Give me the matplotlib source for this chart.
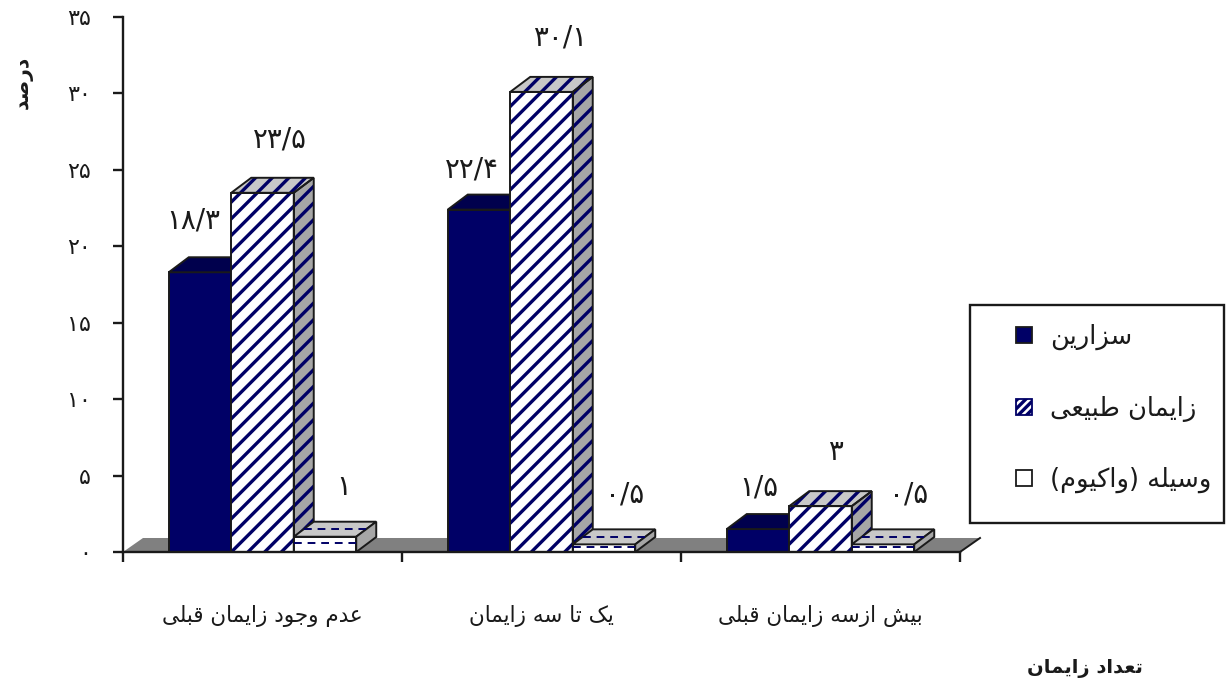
import matplotlib
matplotlib.use("Agg")
import matplotlib.pyplot as plt
from matplotlib.legend_handler import HandlerPatch
from matplotlib.patches import Patch, Polygon, Rectangle


# ---------------- DATA ----------------
CATEGORIES = ["عدم وجود زایمان قبلی", "یک تا سه زایمان", "بیش ازسه زایمان قبلی"]
SERIES_NAMES = ["سزارین", "زایمان طبیعی", "وسیله (واکیوم)"]

CESAREAN = [18.3, 22.4, 1.5]
NATURAL = [23.5, 30.1, 3]
VACUUM = [1, 0.5, 0.5]

CESAREAN_LABELS = ["۱۸/۳", "۲۲/۴", "۱/۵"]
NATURAL_LABELS = ["۲۳/۵", "۳۰/۱", "۳"]
VACUUM_LABELS = ["۱", "۰/۵", "۰/۵"]

Y_TICKS = [0, 5, 10, 15, 20, 25, 30, 35]
Y_TICK_LABELS = ["۰", "۵", "۱۰", "۱۵", "۲۰", "۲۵", "۳۰", "۳۵"]
Y_TITLE = "درصد"
X_TITLE = "تعداد زایمان"
# --------------------------------------

NAVY = "#000066"
DARK_NAVY = "#00004d"
FLOOR = "#808080"
LIGHT_GREY = "#c8c8c8"
SIDE_GREY = "#a6a6a6"
BLACK = "#1a1a1a"

BAR_W = 0.224
DEPTH_X = 20 / 279   # bar depth, in data units
DEPTH_Y = 15 / 15.28
FLOOR_DEPTH_Y = 14 / 15.28

# matplotlib does no Arabic shaping, so map letters to presentation forms
# (isolated, final, initial, medial) and lay them out right to left
FORMS = {
    "ا": (0xFE8D, 0xFE8E), "د": (0xFEA9, 0xFEAA), "ر": (0xFEAD, 0xFEAE),
    "ز": (0xFEAF, 0xFEB0), "و": (0xFEED, 0xFEEE),
    "ب": (0xFE8F, 0xFE90, 0xFE91, 0xFE92), "ت": (0xFE95, 0xFE96, 0xFE97, 0xFE98),
    "ج": (0xFE9D, 0xFE9E, 0xFE9F, 0xFEA0), "س": (0xFEB1, 0xFEB2, 0xFEB3, 0xFEB4),
    "ش": (0xFEB5, 0xFEB6, 0xFEB7, 0xFEB8), "ص": (0xFEB9, 0xFEBA, 0xFEBB, 0xFEBC),
    "ط": (0xFEC1, 0xFEC2, 0xFEC3, 0xFEC4), "ع": (0xFEC9, 0xFECA, 0xFECB, 0xFECC),
    "ق": (0xFED5, 0xFED6, 0xFED7, 0xFED8), "ل": (0xFEDD, 0xFEDE, 0xFEDF, 0xFEE0),
    "م": (0xFEE1, 0xFEE2, 0xFEE3, 0xFEE4), "ن": (0xFEE5, 0xFEE6, 0xFEE7, 0xFEE8),
    "ه": (0xFEE9, 0xFEEA, 0xFEEB, 0xFEEC), "ی": (0xFBFC, 0xFBFD, 0xFBFE, 0xFBFF),
    "ک": (0xFB8E, 0xFB8F, 0xFB90, 0xFB91),
}
MIRROR = {"(": ")", ")": "("}


def shape(text):
    out = []
    for i, ch in enumerate(text):
        if ch not in FORMS:
            out.append(MIRROR.get(ch, ch))
            continue
        prev = text[i - 1] if i > 0 else ""
        nxt = text[i + 1] if i + 1 < len(text) else ""
        forms = FORMS[ch]
        joins_prev = prev in FORMS and len(FORMS[prev]) == 4
        joins_next = nxt in FORMS and len(forms) == 4
        if joins_prev and joins_next:
            code = forms[3]
        elif joins_next:
            code = forms[2]
        elif joins_prev:
            code = forms[1]
        else:
            code = forms[0]
        out.append(chr(code))
    return "".join(reversed(out))


def draw_box(ax, x, value, face, top, side, z, hatch=None, dashed=False):
    x0, x1 = x - BAR_W / 2, x + BAR_W / 2
    ax.bar(x, value, BAR_W, color=face, edgecolor=NAVY if hatch else BLACK,
           hatch=hatch, linewidth=0 if hatch else 1.4, zorder=z)
    top_pts = [(x0, value), (x0 + DEPTH_X, value + DEPTH_Y),
               (x1 + DEPTH_X, value + DEPTH_Y), (x1, value)]
    side_pts = [(x1, 0), (x1, value), (x1 + DEPTH_X, value + DEPTH_Y),
                (x1 + DEPTH_X, DEPTH_Y)]
    for pts, col in ((top_pts, top), (side_pts, side)):
        ax.add_patch(Polygon(pts, closed=True, facecolor=col, edgecolor=NAVY if hatch else BLACK,
                             hatch=hatch, linewidth=0 if hatch else 1.4, zorder=z, clip_on=False))
        if hatch:
            ax.add_patch(Polygon(pts, closed=True, fill=False, edgecolor=BLACK,
                                 linewidth=1.4, zorder=z + 0.1, clip_on=False))
    if hatch:
        ax.bar(x, value, BAR_W, fill=False, edgecolor=BLACK, linewidth=1.4, zorder=z + 0.1)
    if dashed:
        # the vacuum pattern, dashes across the front and the top
        ax.plot([x0, x1], [value * 0.62] * 2, color=NAVY, lw=1.4, ls=(0, (4, 3)), zorder=z + 0.2)
        ax.plot([x0 + DEPTH_X / 2, x1 + DEPTH_X / 2], [value + DEPTH_Y / 2] * 2,
                color=NAVY, lw=1.4, ls=(0, (4, 3)), zorder=z + 0.2)


def legend_swatch(legend, orig_handle, xdescent, ydescent, width, height, fontsize):
    # small square at the right end of a wide handle, as in the reference box
    size = 11.5
    return Rectangle((width - size - xdescent, height / 2 - size / 2 - ydescent), size, size)


def main():
    plt.rcParams["font.family"] = ["DejaVu Sans"]
    plt.rcParams["hatch.linewidth"] = 2.4

    fig = plt.figure(figsize=(12.26, 6.86), dpi=100)
    ax = fig.add_axes([123 / 1226, (686 - 552) / 686, 837 / 1226, 535 / 686])
    ax.set_xlim(0, 3)
    ax.set_ylim(0, 35)

    # floor of the 3D box
    n = len(CATEGORIES)
    ax.add_patch(Polygon([(0, 0), (DEPTH_X, FLOOR_DEPTH_Y), (n + DEPTH_X, FLOOR_DEPTH_Y), (n, 0)],
                         closed=True, facecolor=FLOOR, edgecolor="none", zorder=1, clip_on=False))
    ax.plot([n, n + DEPTH_X], [0, FLOOR_DEPTH_Y], color=BLACK, lw=1.4, zorder=1.1, clip_on=False)

    for i in range(n):
        cx = i + 0.5
        draw_box(ax, cx - BAR_W, CESAREAN[i], NAVY, DARK_NAVY, DARK_NAVY, 2)
        draw_box(ax, cx, NATURAL[i], "white", LIGHT_GREY, SIDE_GREY, 3, hatch="//")
        draw_box(ax, cx + BAR_W, VACUUM[i], "white", LIGHT_GREY, SIDE_GREY, 4, dashed=True)

    # value labels sit about 50 px above the front of each bar
    label_nudge = [(-7, 2), (-7, -10), (1, -8), (17, 3), (19, 4), (15, 4), (19, 0), (21, 0), (26, 0)]
    series = [(CESAREAN, CESAREAN_LABELS, -BAR_W), (NATURAL, NATURAL_LABELS, 0), (VACUUM, VACUUM_LABELS, BAR_W)]
    k = 0
    for values, labels, off in series:
        for i in range(n):
            nx, ny = label_nudge[k]
            ax.annotate(labels[i], (i + 0.5 + off, values[i]), xytext=(nx * 0.72, (50 + ny) * 0.72),
                        textcoords="offset points", ha="center", va="center",
                        fontsize=20, color=BLACK, zorder=6)
            k += 1

    for name in ("top", "right"):
        ax.spines[name].set_visible(False)
    for name in ("left", "bottom"):
        ax.spines[name].set_linewidth(1.7)
        ax.spines[name].set_color(BLACK)
        ax.spines[name].set_zorder(5)

    ax.set_yticks(Y_TICKS)
    ax.set_yticklabels(Y_TICK_LABELS, fontsize=16, color=BLACK)
    ax.tick_params(axis="y", length=7.2, width=1.7, pad=16, color=BLACK)

    ax.set_xticks(range(n + 1))
    ax.set_xticklabels([])
    ax.tick_params(axis="x", which="major", length=7.2, width=1.7, color=BLACK)
    ax.set_xticks([i + 0.5 for i in range(n)], minor=True)
    ax.set_xticklabels([shape(c) for c in CATEGORIES], minor=True, fontsize=15.5, color=BLACK)
    ax.tick_params(axis="x", which="minor", length=0, pad=38)

    fig.text(23 / 1226, 1 - 82 / 686, shape(Y_TITLE), rotation=90, fontsize=14.5, fontweight="bold",
             ha="center", va="center", color=BLACK)
    fig.text(1085 / 1226, 1 - 668 / 686, shape(X_TITLE), fontsize=14, fontweight="bold",
             ha="center", va="center", color=BLACK)

    # legend box is drawn apart: its padding is not the same on every side
    ax.add_patch(Rectangle((970 / 1226, 1 - 523 / 686), 254 / 1226, 218 / 686,
                           transform=fig.transFigure, facecolor="white", edgecolor=BLACK,
                           linewidth=1.7, zorder=9, clip_on=False))
    handles = [
        Patch(facecolor=NAVY, edgecolor=BLACK, linewidth=1.3),
        Patch(facecolor="white", edgecolor=NAVY, hatch="////", linewidth=1.3),
        Patch(facecolor="white", edgecolor=BLACK, linewidth=1.3),
    ]
    leg = ax.legend(handles, [shape(s) for s in SERIES_NAMES], loc="upper left",
                    bbox_to_anchor=(970 / 1226, 1 - 324 / 686), bbox_transform=fig.transFigure,
                    fontsize=18.5, frameon=False, handlelength=2.41, handleheight=0.9,
                    handletextpad=0.7, borderpad=0, labelspacing=1.77, borderaxespad=0,
                    handler_map={Patch: HandlerPatch(patch_func=legend_swatch)})
    leg.set_zorder(10)
    for txt in leg.get_texts():
        txt.set_color(BLACK)

    fig.savefig("out.png", dpi=100)


if __name__ == "__main__":
    main()
